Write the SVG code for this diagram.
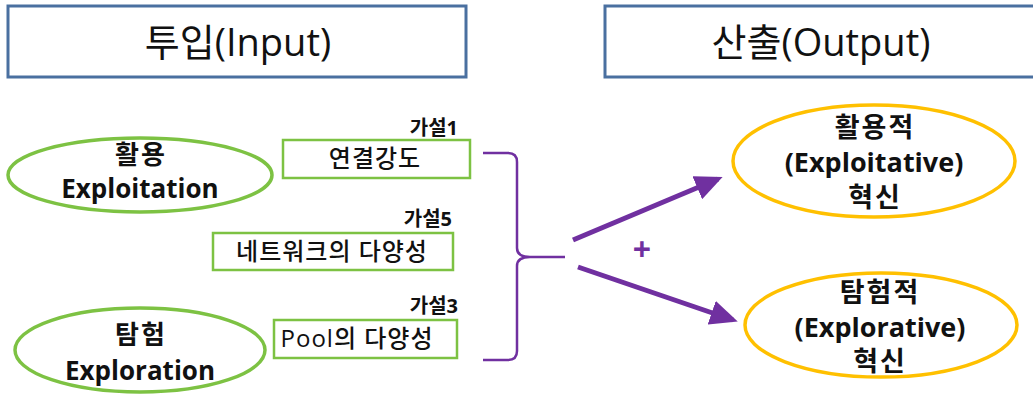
<svg xmlns="http://www.w3.org/2000/svg" width="1033" height="396" viewBox="0 0 1033 396">
  <style>
    text { font-family: "Open Sans", "Noto Sans CJK KR", sans-serif; fill: #111; text-anchor: middle; }
    .head { fill: #fff; stroke: #4a70a0; stroke-width: 3; }
    .head-t { font-size: 38px; font-weight: 400; }
    .concept { fill: #fff; stroke: #7dc243; stroke-width: 3.5; }
    .outcome { fill: #fff; stroke: #ffc000; stroke-width: 3.5; }
    .factor { fill: #fff; stroke: #7dc243; stroke-width: 2.5; }
    .big { font-size: 26px; font-weight: 700; }
    .big2 { font-size: 27px; font-weight: 700; }
    .ko { letter-spacing: 2px; }
    .mid { font-size: 24px; font-weight: 500; letter-spacing: 1px; }
    .hyp { font-size: 20px; font-weight: 700; text-anchor: end; }
    .link { fill: none; stroke: #7030a0; stroke-width: 5; }
    .brace { fill: none; stroke: #7030a0; stroke-width: 2.5; }
  </style>
  <defs>
    <marker id="arrowhead" markerWidth="5.5" markerHeight="5" refX="4.5" refY="2.5" orient="auto" markerUnits="strokeWidth">
      <path d="M0,0 L5.5,2.5 L0,5 Z" fill="#7030a0"/>
    </marker>
  </defs>

  <rect width="1033" height="396" fill="#fff"/>

  <!-- column headers -->
  <g id="input-header">
    <rect class="head" x="8" y="6" width="458" height="71"/>
    <text class="head-t" x="238" y="56">투입(Input)</text>
  </g>
  <g id="output-header">
    <rect class="head" x="605" y="6" width="440" height="71"/>
    <text class="head-t" x="821" y="56">산출(Output)</text>
  </g>

  <!-- input concepts -->
  <g id="exploitation">
    <ellipse class="concept" cx="140" cy="175" rx="132" ry="37"/>
    <text class="big ko" x="141" y="164">활용</text>
    <text class="big" x="140" y="198">Exploitation</text>
  </g>
  <g id="exploration">
    <ellipse class="concept" cx="140" cy="350" rx="125" ry="42"/>
    <text class="big ko" x="141" y="344">탐험</text>
    <text class="big" x="140" y="380">Exploration</text>
  </g>

  <!-- network factors -->
  <g id="tie-strength">
    <text class="hyp" x="458" y="135">가설1</text>
    <rect class="factor" x="283" y="140" width="187" height="38"/>
    <text class="mid" x="375" y="167">연결강도</text>
  </g>
  <g id="network-diversity">
    <text class="hyp" x="452" y="226">가설5</text>
    <rect class="factor" x="213" y="233" width="240" height="37"/>
    <text class="mid" x="332" y="260">네트워크의 다양성</text>
  </g>
  <g id="pool-diversity">
    <text class="hyp" x="458" y="313">가설3</text>
    <rect class="factor" x="274" y="320" width="183" height="38"/>
    <text class="mid" x="357" y="347">Pool의 다양성</text>
  </g>

  <!-- outcomes -->
  <g id="exploitative-innovation">
    <ellipse class="outcome" cx="874" cy="161" rx="141" ry="56"/>
    <text class="big2 ko" x="875" y="137">활용적</text>
    <text class="big2" x="874" y="172">(Exploitative)</text>
    <text class="big2 ko" x="875" y="207">혁신</text>
  </g>
  <g id="explorative-innovation">
    <ellipse class="outcome" cx="881" cy="325" rx="136" ry="52"/>
    <text class="big2 ko" x="880" y="302">탐험적</text>
    <text class="big2" x="880" y="337">(Explorative)</text>
    <text class="big2 ko" x="880" y="371">혁신</text>
  </g>

  <!-- connectors -->
  <g id="connectors">
    <path class="brace" d="M483,153 L508,153 Q517,153 517,162 L517,248 Q517,257 530,257 L565,257 M530,257 Q517,257 517,266 L517,351 Q517,360 508,360 L483,360"/>
    <line class="link" x1="573" y1="240" x2="718" y2="179" marker-end="url(#arrowhead)"/>
    <line class="link" x1="578" y1="267" x2="733" y2="320" marker-end="url(#arrowhead)"/>
    <text x="642" y="261" style="font-size:32px;font-weight:700;fill:#7030a0">+</text>
  </g>
</svg>
